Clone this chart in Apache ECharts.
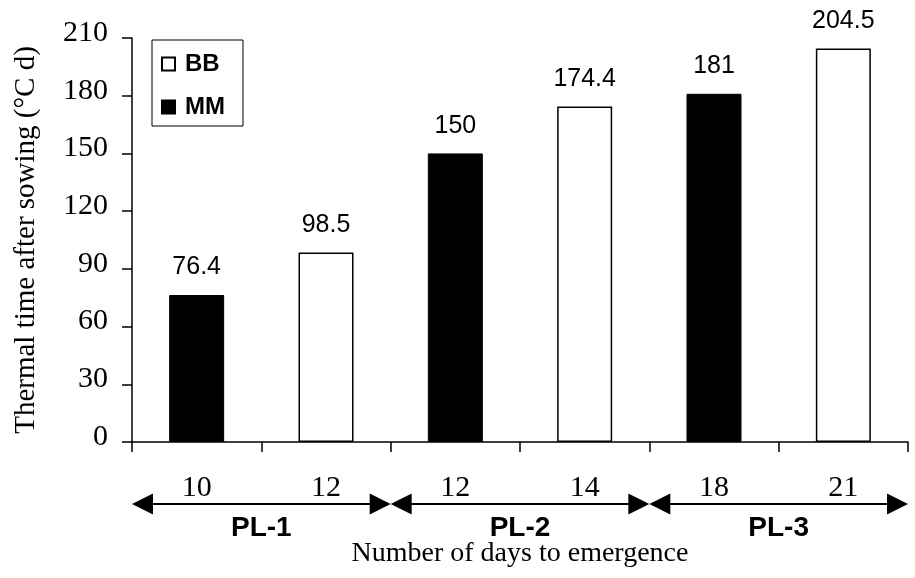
<!DOCTYPE html>
<html>
<head>
<meta charset="utf-8">
<script src="https://cdn.jsdelivr.net/npm/echarts@6/dist/echarts.min.js"></script>
<style>
  html, body { margin: 0; padding: 0; background: #fff; }
  #chart { width: 915px; height: 578px; }
</style>
</head>
<body>
<div id="chart"></div>
<script>
// Days to emergence (one category per bar)
const days = ['10', '12', '12', '14', '18', '21'];
// Thermal time after sowing, °C d
const mmValues = [76.4, null, 150, null, 181, null];
const bbValues = [null, 98.5, null, 174.4, null, 204.5];
// Planting dates, each spanning two bars
const plantings = ['PL-1', 'PL-2', 'PL-3'];
const yMin = 0, yMax = 210, yStep = 30;

const SERIF = '"Liberation Serif", "Times New Roman", serif';
const SANS = '"Liberation Sans", Arial, sans-serif';

const chart = echarts.init(document.getElementById('chart'), null, { renderer: 'canvas' });

const valueLabel = {
  show: true,
  position: 'top',
  distance: 15,
  fontFamily: SANS,
  fontSize: 25,
  color: '#000',
  formatter: p => String(p.value)
};

chart.setOption({
  animation: false,
  backgroundColor: '#fff',
  grid: { left: 132, right: 7, top: 38, bottom: 136, containLabel: false },
  legend: {
    data: ['BB', 'MM'],
    orient: 'vertical',
    left: 152,
    top: 40,
    padding: [12, 18, 7, 9],
    borderColor: '#000',
    borderWidth: 1,
    itemWidth: 13,
    itemHeight: 13,
    itemGap: 19,
    icon: 'rect',
    selectedMode: false,
    textStyle: {
      fontFamily: SANS,
      fontWeight: 'bold',
      fontSize: 24,
      color: '#000',
      padding: [0, 0, 0, 5]
    }
  },
  xAxis: {
    type: 'category',
    data: days,
    boundaryGap: true,
    name: 'Number of days to emergence',
    nameLocation: 'middle',
    nameGap: 98,
    nameTextStyle: { fontFamily: SERIF, fontSize: 28, color: '#000' },
    axisLine: { show: true, lineStyle: { color: '#000', width: 1.5 } },
    axisTick: { show: true, length: 10, alignWithLabel: false, lineStyle: { color: '#000', width: 1.5 } },
    axisLabel: { fontFamily: SERIF, fontSize: 30, color: '#000', margin: 31, interval: 0 },
    splitLine: { show: false }
  },
  yAxis: {
    type: 'value',
    min: yMin,
    max: yMax,
    interval: yStep,
    name: 'Thermal time after sowing (°C d)',
    nameLocation: 'middle',
    nameRotate: 90,
    nameGap: 91,
    nameTextStyle: { fontFamily: SERIF, fontSize: 29, color: '#000' },
    axisLine: { show: true, lineStyle: { color: '#000', width: 1.5 } },
    axisTick: { show: true, length: 10, lineStyle: { color: '#000', width: 1.5 } },
    // labels sit a little above their tick marks
    axisLabel: {
      fontFamily: SERIF, fontSize: 30, color: '#000', margin: 24,
      verticalAlign: 'bottom', lineHeight: 10
    },
    splitLine: { show: false }
  },
  series: [
    {
      name: 'MM',
      type: 'bar',
      data: mmValues,
      barWidth: 55,
      barGap: '-100%',
      itemStyle: { color: '#000', borderColor: '#000', borderWidth: 1 },
      label: valueLabel
    },
    {
      name: 'BB',
      type: 'bar',
      data: bbValues,
      barWidth: 55,
      barGap: '-100%',
      itemStyle: { color: '#fff', borderColor: '#000', borderWidth: 1.5 },
      label: valueLabel
    }
  ]
});

// Double-headed arrows and planting labels under each pair of bars
function drawPlantingBrackets() {
  const xs = days.map((d, i) => chart.convertToPixel({ xAxisIndex: 0 }, i));
  const band = xs[1] - xs[0];
  const y = 504, head = 21, half = 10.5;
  const elements = [];
  plantings.forEach((name, g) => {
    const x0 = xs[2 * g] - band / 2;
    const x1 = xs[2 * g + 1] + band / 2;
    elements.push({
      type: 'line', silent: true,
      shape: { x1: x0 + head - 2, y1: y, x2: x1 - head + 2, y2: y },
      style: { stroke: '#000', lineWidth: 2 }
    });
    elements.push({
      type: 'polygon', silent: true,
      shape: { points: [[x0, y], [x0 + head, y - half], [x0 + head, y + half]] },
      style: { fill: '#000' }
    });
    elements.push({
      type: 'polygon', silent: true,
      shape: { points: [[x1, y], [x1 - head, y - half], [x1 - head, y + half]] },
      style: { fill: '#000' }
    });
    elements.push({
      type: 'text', silent: true,
      x: (x0 + x1) / 2, y: 528,
      style: {
        text: name, fontFamily: SANS, fontWeight: 'bold', fontSize: 28,
        fill: '#000', align: 'center', verticalAlign: 'middle'
      }
    });
  });
  chart.setOption({ graphic: elements });
}
drawPlantingBrackets();
</script>
</body>
</html>
